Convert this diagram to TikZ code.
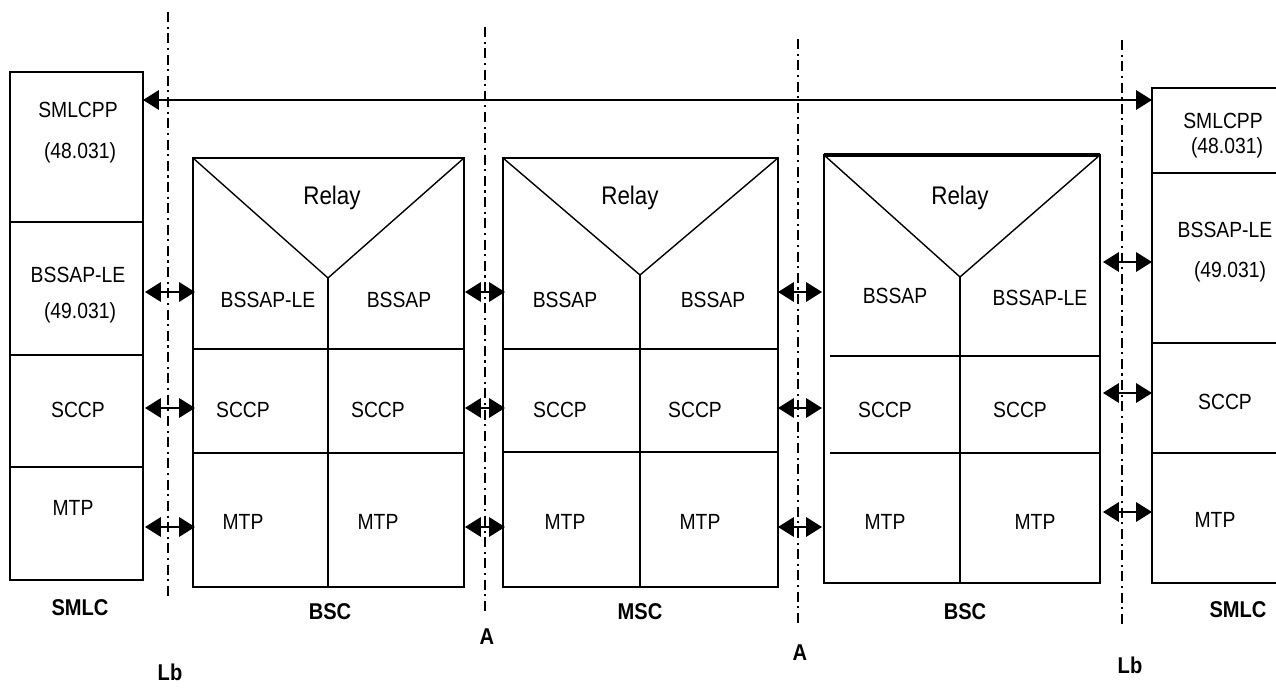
\documentclass[tikz,border=0pt]{standalone}
\usepackage{fontspec}
\setmainfont[FakeStretch=0.88]{Liberation Sans}
\usetikzlibrary{arrows.meta}

\begin{document}
\begin{tikzpicture}[x=0.02cm,y=-0.02cm]
\useasboundingbox (0,0) rectangle (1276,689);

% 1. Koordinaten der Kaesten
\coordinate (smlcL1) at (10,72);
\coordinate (smlcL2) at (143,580);
\coordinate (bscA1) at (193,158);
\coordinate (bscA2) at (464,587);
\coordinate (bscAv) at (328,278);
\coordinate (msc1) at (503,158);
\coordinate (msc2) at (778,587);
\coordinate (mscv) at (640,275);
\coordinate (bscB1) at (824,155);
\coordinate (bscB2) at (1100,583);
\coordinate (bscBv) at (960,277);

% Schnittstellen (oben / unten)
\coordinate (lb1t) at (168,12);   \coordinate (lb1b) at (168,597);
\coordinate (a1t) at (485,27);    \coordinate (a1b) at (485,613);
\coordinate (a2t) at (798,39);    \coordinate (a2b) at (798,626);
\coordinate (lb2t) at (1122,40);  \coordinate (lb2b) at (1122,627);

% 2. Stile definieren
\tikzset{
  box/.style={line width=1.1pt},
  thin box/.style={line width=0.8pt},
  iface line/.style={
    line width=0.8pt,
    dash pattern=on 5.7pt off 2.6pt on 1.2pt off 2.6pt
  },
  peer arrow/.style={
    line width=1.1pt,
    {Triangle[length=9pt,width=11pt]}-{Triangle[length=9pt,width=11pt]}
  },
  layer/.style={font=\fontsize{12.5}{14}\selectfont, inner sep=0pt},
  relay/.style={font=\fontsize{14.5}{16}\selectfont, inner sep=0pt},
  entity/.style={font=\fontsize{13}{15}\selectfont\bfseries, inner sep=0pt}
}

% 3. Kaesten zeichnen
% SMLC links
\draw [box] (smlcL1) rectangle (smlcL2);
\draw [thin box] (10,222) -- (143,222);
\draw [thin box] (10,355) -- (143,355);
\draw [thin box] (10,467) -- (143,467);

% BSC links
\draw [box] (bscA1) rectangle (bscA2);
\draw [thin box] (bscA1) -- (bscAv) -- (464,158);
\draw [thin box] (bscAv) -- (328,587);
\draw [thin box] (193,349) -- (464,349);
\draw [thin box] (193,453) -- (464,453);

% MSC
\draw [box] (msc1) rectangle (msc2);
\draw [thin box] (msc1) -- (mscv) -- (778,158);
\draw [thin box] (mscv) -- (640,587);
\draw [thin box] (503,349) -- (778,349);
\draw [thin box] (503,452) -- (778,452);

% BSC rechts
\draw [box] (bscB1) rectangle (bscB2);
\draw [line width=2pt] (824,155) -- (1100,155);
\draw [thin box] (bscB1) -- (bscBv) -- (1100,155);
\draw [thin box] (bscBv) -- (960,583);
\draw [thin box] (830,356) -- (1100,356);
\draw [thin box] (830,453) -- (1100,453);

% SMLC rechts (rechter Rand offen)
\draw [box] (1276,88) -- (1152,88) -- (1152,583) -- (1276,583);
\draw [thin box] (1152,173) -- (1276,173);
\draw [thin box] (1152,343) -- (1276,343);
\draw [thin box] (1152,453) -- (1276,453);

% 4. Schnittstellen-Linien
\draw [iface line] (lb1t) -- (lb1b);
\draw [iface line] (a1t) -- (a1b);
\draw [iface line] (a2t) -- (a2b);
\draw [iface line] (lb2t) -- (lb2b);

% 5. Pfeile
\coordinate (pp1) at (143,100);
\coordinate (pp2) at (1152,100);
\draw [peer arrow] (pp1) -- (pp2);

\foreach \n/\xa/\xb/\ya/\yb/\yc in {lb1/145/195/292/408/527,
                                    a1/465/505/292/408/527,
                                    a2/778/822/292/408/527,
                                    lb2/1103/1152/262/393/512} {
  \coordinate (\n l1) at (\xa,\ya); \coordinate (\n r1) at (\xb,\ya);
  \coordinate (\n l2) at (\xa,\yb); \coordinate (\n r2) at (\xb,\yb);
  \coordinate (\n l3) at (\xa,\yc); \coordinate (\n r3) at (\xb,\yc);
  \draw [peer arrow] (\n l1) -- (\n r1);
  \draw [peer arrow] (\n l2) -- (\n r2);
  \draw [peer arrow] (\n l3) -- (\n r3);
}

% 6. Beschriftungen
\node [layer] (sl1) at (78,110) {SMLCPP};
\node [layer] (sl2) at (80,153) {(48.031)};
\node [layer] (sl3) at (78,275) {BSSAP-LE};
\node [layer] (sl4) at (80,313) {(49.031)};
\node [layer] (sl5) at (78,410) {SCCP};
\node [layer] (sl6) at (73,508) {MTP};

\node [relay] (ba0) at (332,198) {Relay};
\node [layer] (ba1) at (268,300) {BSSAP-LE};
\node [layer] (ba2) at (399,300) {BSSAP};
\node [layer] (ba3) at (243,410) {SCCP};
\node [layer] (ba4) at (378,410) {SCCP};
\node [layer] (ba5) at (243,522) {MTP};
\node [layer] (ba6) at (378,522) {MTP};

\node [relay] (ms0) at (630,198) {Relay};
\node [layer] (ms1) at (565,300) {BSSAP};
\node [layer] (ms2) at (713,300) {BSSAP};
\node [layer] (ms3) at (560,410) {SCCP};
\node [layer] (ms4) at (695,410) {SCCP};
\node [layer] (ms5) at (565,522) {MTP};
\node [layer] (ms6) at (700,522) {MTP};

\node [relay] (bb0) at (960,198) {Relay};
\node [layer] (bb1) at (895,296) {BSSAP};
\node [layer] (bb2) at (1040,298) {BSSAP-LE};
\node [layer] (bb3) at (885,410) {SCCP};
\node [layer] (bb4) at (1020,410) {SCCP};
\node [layer] (bb5) at (885,522) {MTP};
\node [layer] (bb6) at (1035,522) {MTP};

\node [layer] (sr1) at (1223,121) {SMLCPP};
\node [layer] (sr2) at (1227,148) {(48.031)};
\node [layer] (sr3) at (1225,230) {BSSAP-LE};
\node [layer] (sr4) at (1230,272) {(49.031)};
\node [layer] (sr5) at (1225,402) {SCCP};
\node [layer] (sr6) at (1215,520) {MTP};

\node [entity] (smlcL) at (80,608) {SMLC};
\node [entity] (bscA) at (330,612) {BSC};
\node [entity] (mscN) at (640,612) {MSC};
\node [entity] (bscB) at (965,612) {BSC};
\node [entity] (smlcR) at (1238,610) {SMLC};

\node [entity] (lbL) at (170,672) {Lb};
\node [entity] (aL) at (487,637) {A};
\node [entity] (aR) at (800,653) {A};
\node [entity] (lbR) at (1130,665) {Lb};

\end{tikzpicture}
\end{document}
